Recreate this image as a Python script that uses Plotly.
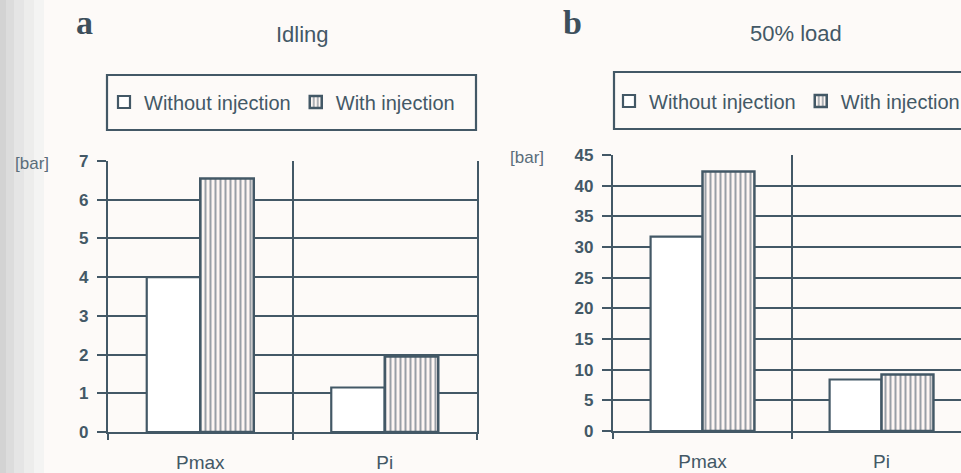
import plotly.graph_objects as go

categories = ["Pmax", "Pi"]
idle_without = [4.0, 1.15]
idle_with = [6.55, 1.95]
load_without = [31.7, 8.4]
load_with = [42.3, 9.2]
idle_ticks = [0, 1, 2, 3, 4, 5, 6, 7]
load_ticks = [0, 5, 10, 15, 20, 25, 30, 35, 40, 45]
series_names = ["Without injection", "With injection"]

INK = "#435866"
HATCH = "#33485a"
W, H = 961, 473
FONT = "Liberation Sans, Arial"

def px(x):
    return x / W

def py(y):
    return 1 - y / H

fig = go.Figure()

def add_pair(vals_without, vals_with, xa, ya, leg):
    fig.add_trace(go.Bar(
        x=categories, y=vals_without, name=series_names[0],
        xaxis=xa, yaxis=ya, legend=leg,
        marker=dict(color="white", line=dict(color=INK, width=2.2)),
    ))
    fig.add_trace(go.Bar(
        x=categories, y=vals_with, name=series_names[1],
        xaxis=xa, yaxis=ya, legend=leg,
        marker=dict(color="white", line=dict(color=INK, width=2.5),
                    pattern=dict(shape="|", fgcolor=HATCH, bgcolor="#fdf6f3",
                                 size=5, solidity=0.4)),
    ))

add_pair(idle_without, idle_with, "x", "y", "legend")
add_pair(load_without, load_with, "x2", "y2", "legend2")

yaxis_common = dict(
    showline=True, linecolor=INK, linewidth=2.2, automargin=False,
    ticks="outside", tickcolor=INK, tickwidth=2, ticklen=9,
    showgrid=True, gridcolor=INK, gridwidth=2.2,
    zeroline=False, ticklabelstandoff=5,
    tickfont=dict(family=FONT, size=17, color=INK, weight="bold"),
)

xaxis_common = dict(
    type="category", tickson="boundaries", ticks="outside", ticklen=6, tickwidth=2,
    tickcolor=INK, showgrid=True, gridcolor=INK, gridwidth=2.2, automargin=False,
    showline=True, linecolor=INK, linewidth=2.2, ticklabelstandoff=12,
    tickfont=dict(family=FONT, size=19, color=INK),
)

leg_font = dict(family=FONT, size=20, color=INK)

fig.update_layout(
    width=W, height=H,
    margin=dict(l=0, r=0, t=0, b=0, autoexpand=False),
    paper_bgcolor="#fdfaf8",
    plot_bgcolor="#fdfaf8",
    barmode="group",
    bargap=0.42,
    bargroupgap=0,
    xaxis=dict(domain=[px(108), px(477)], range=[-0.5, 1.5], anchor="y", **xaxis_common),
    yaxis=dict(domain=[py(432), py(161)], range=[0, 7], tickvals=idle_ticks,
               anchor="x", mirror=True, **yaxis_common),
    xaxis2=dict(domain=[px(613), 1.0], range=[-0.5, 1.444], anchor="y2", **xaxis_common),
    yaxis2=dict(domain=[py(431), py(155)], range=[0, 45], tickvals=load_ticks,
                anchor="x2", **yaxis_common),
    legend=dict(orientation="h", x=px(104), y=py(102), xanchor="left", yanchor="middle",
                bgcolor="rgba(0,0,0,0)", borderwidth=0, font=leg_font,
                itemclick=False, itemwidth=30),
    legend2=dict(orientation="h", x=px(609), y=py(101), xanchor="left", yanchor="middle",
                 bgcolor="rgba(0,0,0,0)", borderwidth=0, font=leg_font,
                 itemclick=False, itemwidth=30),
)

# legend frames
fig.add_shape(type="rect", xref="paper", yref="paper",
              x0=px(107), x1=px(476), y0=py(130), y1=py(75),
              line=dict(color=INK, width=2.2), fillcolor="rgba(0,0,0,0)")
fig.add_shape(type="rect", xref="paper", yref="paper",
              x0=px(614), x1=px(975), y0=py(129), y1=py(72),
              line=dict(color=INK, width=2.2), fillcolor="rgba(0,0,0,0)")

# soft scan shadow on the left edge
for x1, c in [(44, "#f4f4f3"), (34, "#ededec"), (24, "#e5e5e5"), (14, "#dcdcdc"), (6, "#d3d3d3")]:
    fig.add_shape(type="rect", xref="paper", yref="paper", layer="below",
                  x0=0, x1=px(x1), y0=0, y1=1, line=dict(width=0), fillcolor=c)

def note(text, x, y, font):
    fig.add_annotation(text=text, xref="paper", yref="paper", x=px(x), y=py(y),
                       xanchor="center", yanchor="middle", showarrow=False, font=font)

ann_font = dict(family=FONT, size=17, color="#5a6d7a")
note("[bar]", 32, 163, ann_font)
note("[bar]", 527, 157, ann_font)
note("Idling", 302, 34, dict(family=FONT, size=22, color=INK))
note("50% load", 796, 33, dict(family=FONT, size=22, color=INK))
note("<b>a</b>", 84, 23, dict(family="Liberation Serif, serif", size=34, color="#3d4f5c"))
note("<b>b</b>", 572, 23, dict(family="Liberation Serif, serif", size=34, color="#3d4f5c"))

fig.write_html("out.html")
